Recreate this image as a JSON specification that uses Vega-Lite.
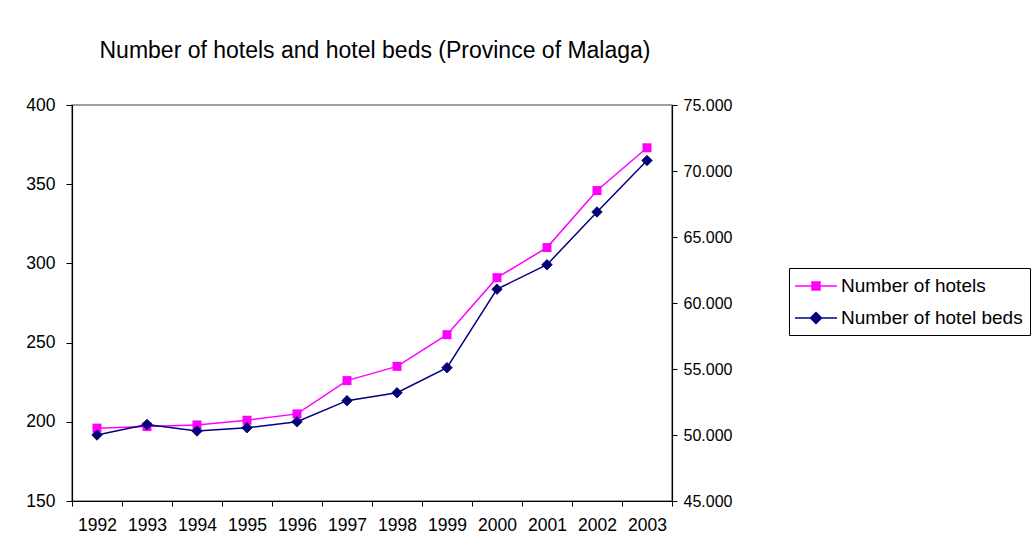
{
  "$schema": "https://vega.github.io/schema/vega-lite/v6.json",
  "width": 600,
  "height": 396,
  "autosize": {"type": "none"},
  "padding": {"left": 72, "top": 105, "right": 360, "bottom": 58},
  "background": "white",
  "title": {
    "text": "Number of hotels and hotel beds (Province of Malaga)",
    "font": "Liberation Sans",
    "fontSize": 23,
    "fontWeight": "normal",
    "color": "black",
    "anchor": "middle",
    "dx": 3,
    "offset": 15,
    "baseline": "alphabetic"
  },
  "data": {
    "values": [
      {"year": "1992", "series": "Number of hotels", "value": 196},
      {"year": "1993", "series": "Number of hotels", "value": 197},
      {"year": "1994", "series": "Number of hotels", "value": 198},
      {"year": "1995", "series": "Number of hotels", "value": 201},
      {"year": "1996", "series": "Number of hotels", "value": 205},
      {"year": "1997", "series": "Number of hotels", "value": 226},
      {"year": "1998", "series": "Number of hotels", "value": 235},
      {"year": "1999", "series": "Number of hotels", "value": 255},
      {"year": "2000", "series": "Number of hotels", "value": 291},
      {"year": "2001", "series": "Number of hotels", "value": 310},
      {"year": "2002", "series": "Number of hotels", "value": 346},
      {"year": "2003", "series": "Number of hotels", "value": 373},
      {"year": "1992", "series": "Number of hotel beds", "value": 50000},
      {"year": "1993", "series": "Number of hotel beds", "value": 50800},
      {"year": "1994", "series": "Number of hotel beds", "value": 50300},
      {"year": "1995", "series": "Number of hotel beds", "value": 50550},
      {"year": "1996", "series": "Number of hotel beds", "value": 51000},
      {"year": "1997", "series": "Number of hotel beds", "value": 52600},
      {"year": "1998", "series": "Number of hotel beds", "value": 53200},
      {"year": "1999", "series": "Number of hotel beds", "value": 55100},
      {"year": "2000", "series": "Number of hotel beds", "value": 61050},
      {"year": "2001", "series": "Number of hotel beds", "value": 62900},
      {"year": "2002", "series": "Number of hotel beds", "value": 66900},
      {"year": "2003", "series": "Number of hotel beds", "value": 70800}
    ]
  },
  "encoding": {
    "x": {
      "field": "year",
      "type": "ordinal",
      "scale": {"type": "band", "paddingInner": 0, "paddingOuter": 0},
      "axis": {
        "title": null,
        "labelAngle": 0,
        "tickBand": "extent",
        "tickSize": 5,
        "labelPadding": 10,
        "labelFontSize": 17.5,
        "labelColor": "black",
        "domainColor": "black",
        "tickColor": "black",
        "grid": false,
        "encode": {"ticks": {"update": {"y": {"value": -4}}}}
      }
    }
  },
  "layer": [
    {
      "transform": [{"filter": "datum.series === 'Number of hotels'"}],
      "encoding": {
        "y": {
          "field": "value",
          "type": "quantitative",
          "scale": {"domain": [150, 400], "nice": false, "zero": false},
          "axis": {
            "orient": "left",
            "title": null,
            "values": [150, 200, 250, 300, 350, 400],
            "tickSize": 6,
            "labelPadding": 11,
            "labelFontSize": 17.5,
            "labelColor": "black",
            "domainColor": "black",
            "tickColor": "black",
            "grid": false,
            "encode": {"ticks": {"update": {"x": {"value": 5}}}}
          }
        }
      },
      "layer": [
        {"mark": {"type": "line", "color": "#FF00FF", "strokeWidth": 1.5}},
        {"mark": {"type": "point", "filled": true, "shape": "square", "size": 81, "opacity": 1, "color": "#FF00FF"}}
      ]
    },
    {
      "transform": [{"filter": "datum.series === 'Number of hotel beds'"}],
      "encoding": {
        "y": {
          "field": "value",
          "type": "quantitative",
          "scale": {"domain": [45000, 75000], "nice": false, "zero": false},
          "axis": {
            "orient": "right",
            "title": null,
            "values": [45000, 50000, 55000, 60000, 65000, 70000, 75000],
            "labelExpr": "replace(format(datum.value, ','), ',', '.')",
            "tickSize": 5,
            "labelPadding": 6,
            "labelFontSize": 16,
            "labelColor": "black",
            "domainColor": "black",
            "tickColor": "black",
            "grid": false,
            "encode": {"ticks": {"update": {"x": {"value": -5}}}}
          }
        }
      },
      "layer": [
        {"mark": {"type": "line", "color": "#000080", "strokeWidth": 1.5}},
        {"mark": {"type": "point", "filled": true, "shape": "diamond", "size": 110, "opacity": 1, "color": "#000080", "stroke": "#000040", "strokeWidth": 0.8}}
      ]
    },
    {
      "transform": [{"filter": "false"}],
      "mark": {"type": "point", "filled": true, "opacity": 1, "strokeWidth": 1.5},
      "encoding": {
        "fill": {
          "field": "series",
          "type": "nominal",
          "scale": {"domain": ["Number of hotels", "Number of hotel beds"], "range": ["#FF00FF", "#000080"]},
          "legend": {
            "title": null,
            "orient": "none",
            "legendX": 717,
            "legendY": 163,
            "padding": 7,
            "strokeColor": "black",
            "fillColor": "white",
            "labelFontSize": 19,
            "labelColor": "black",
            "labelLimit": 400,
            "symbolSize": 400,
            "symbolOffset": 9,
            "labelOffset": 14,
            "rowPadding": 11,
            "symbolStrokeWidth": 1.5,
            "symbolOpacity": 1
          }
        },
        "stroke": {
          "field": "series",
          "type": "nominal",
          "scale": {"domain": ["Number of hotels", "Number of hotel beds"], "range": ["#FF00FF", "#000080"]},
          "legend": {
            "title": null,
            "orient": "none",
            "legendX": 717,
            "legendY": 163,
            "padding": 7,
            "strokeColor": "black",
            "fillColor": "white",
            "labelFontSize": 19,
            "labelColor": "black",
            "labelLimit": 400,
            "symbolSize": 400,
            "symbolOffset": 9,
            "labelOffset": 14,
            "rowPadding": 11,
            "symbolStrokeWidth": 1.5,
            "symbolOpacity": 1
          }
        },
        "shape": {
          "field": "series",
          "type": "nominal",
          "scale": {
            "domain": ["Number of hotels", "Number of hotel beds"],
            "range": ["M-2.1,0H2.1M-0.4,-0.4H0.4V0.4H-0.4Z", "M-2.1,0H2.1M0,-0.55L0.55,0L0,0.55L-0.55,0Z"]
          },
          "legend": {
            "title": null,
            "orient": "none",
            "legendX": 717,
            "legendY": 163,
            "padding": 7,
            "strokeColor": "black",
            "fillColor": "white",
            "labelFontSize": 19,
            "labelColor": "black",
            "labelLimit": 400,
            "symbolSize": 400,
            "symbolOffset": 9,
            "labelOffset": 14,
            "rowPadding": 11,
            "symbolStrokeWidth": 1.5,
            "symbolOpacity": 1
          }
        }
      }
    }
  ],
  "resolve": {"scale": {"y": "independent"}},
  "config": {
    "font": "Liberation Sans",
    "view": {"stroke": "#808080", "strokeWidth": 1.5},
    "axis": {"domainWidth": 1.2, "tickWidth": 1}
  }
}
